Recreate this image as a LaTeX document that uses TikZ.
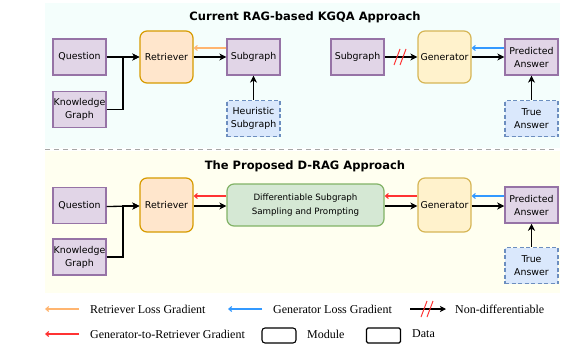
\documentclass[tikz,border=0pt]{standalone}
\usepackage{fontspec}
\setmainfont{DejaVu Sans}
\newfontfamily\legendfont{Liberation Serif}
\usetikzlibrary{arrows.meta,calc}

\definecolor{topbg}{HTML}{F4FEFC}
\definecolor{botbg}{HTML}{FFFFF0}
\definecolor{datafill}{HTML}{E1D5E7}
\definecolor{datadraw}{HTML}{9673A6}
\definecolor{auxfill}{HTML}{DAE8FC}
\definecolor{auxdraw}{HTML}{6C8EBF}
\definecolor{retfill}{HTML}{FFE6CC}
\definecolor{retdraw}{HTML}{D79B00}
\definecolor{genfill}{HTML}{FFF2CC}
\definecolor{gendraw}{HTML}{D6B656}
\definecolor{difffill}{HTML}{D5E8D4}
\definecolor{diffdraw}{HTML}{82B366}
\definecolor{retgrad}{HTML}{FFB570}
\definecolor{gengrad}{HTML}{3399FF}
\definecolor{g2rgrad}{HTML}{FF3333}

\tikzset{
  box/.style={draw, line width=1.2pt, minimum width=53pt, align=center,
    inner sep=0.5pt, font=\fontsize{9.4}{13}\selectfont},
  databox/.style={box, fill=datafill, draw=datadraw, minimum height=36pt},
  auxbox/.style={box, fill=auxfill, draw=auxdraw, dash pattern=on 4pt off 2.5pt, minimum height=36pt},
  retbox/.style={box, fill=retfill, draw=retdraw, rounded corners=7pt, minimum height=52pt},
  genbox/.style={box, fill=genfill, draw=gendraw, rounded corners=7pt, minimum height=52pt},
  diffbox/.style={box, fill=difffill, draw=diffdraw, rounded corners=7pt,
    minimum width=157pt, minimum height=42pt, font=\fontsize{8.7}{13.5}\selectfont},
  flow/.style={-{Stealth[length=7pt,width=7pt,inset=2pt]}, line width=1.3pt},
  grad/.style={-{Straight Barb[length=3pt,width=5pt]}, line width=1.1pt},
  cut/.style={draw=g2rgrad, line width=1pt},
  title/.style={font=\bfseries\fontsize{11.5}{13}\selectfont},
  legtext/.style={anchor=west, font=\legendfont\fontsize{12}{13}\selectfont, inner sep=0pt},
  legbox/.style={draw, line width=1.1pt, minimum width=34pt, minimum height=15pt, inner sep=0pt}
}

\begin{document}
\begin{tikzpicture}[x=1pt,y=-1pt]
\useasboundingbox (0,0) rectangle (564,345);

% panel backgrounds and separator
\fill[topbg] (45,3) rectangle (560,148);
\fill[botbg] (45,151) rectangle (560,293);
\draw[gray!70, line width=1pt, dash pattern=on 5pt off 4pt] (45,149.5) -- (557,149.5);

% ---------------- current approach ----------------
\node[title] (t1) at (305,17) {Current RAG-based KGQA Approach};

\node[databox] (q1)  at (79.5,57)    {Question};
\node[databox] (kg1) at (79.5,109.5) {Knowledge\\Graph};
\node[retbox]  (r1)  at (166.5,57)   {Retriever};
\node[databox] (s1)  at (253.5,57)   {Subgraph};
\node[auxbox]  (h1)  at (253.5,118.5){Heuristic\\Subgraph};
\node[databox] (s2)  at (357.5,57)   {Subgraph};
\node[genbox]  (g1)  at (444.5,57)   {Generator};
\node[databox] (pa1) at (531.5,57)   {Predicted\\Answer};
\node[auxbox]  (ta1) at (531.5,118.5){True\\Answer};

\coordinate (j1) at (123,57);
\draw[flow] (q1.east) -- (r1.west);
\draw[flow] (kg1.east) -| (j1) -- (r1.west);
\draw[flow] (r1.east) -- (s1.west);
\draw[grad, retgrad] ([yshift=9pt]s1.west) -- ([yshift=9pt]r1.east);
\draw[flow] (h1.north) -- (s1.south);
\draw[flow] (s2.east) -- (g1.west);
\coordinate (nd) at ($(s2.east)!0.5!(g1.west)$);
\draw[cut] ($(nd)+(-7,8)$) -- ($(nd)+(-1,-8)$);
\draw[cut] ($(nd)+(-1,8)$) -- ($(nd)+(5,-8)$);
\draw[flow] (g1.east) -- (pa1.west);
\draw[grad, gengrad] ([yshift=9pt]pa1.west) -- ([yshift=9pt]g1.east);
\draw[flow] (ta1.north) -- (pa1.south);

% ---------------- proposed approach ----------------
\node[title] (t2) at (305,166) {The Proposed D-RAG Approach};

\node[databox] (q2)  at (79.5,205.5) {Question};
\node[databox] (kg2) at (79.5,257)   {Knowledge\\Graph};
\node[retbox, minimum height=54pt] (r2) at (166.5,205) {Retriever};
\node[diffbox] (d2)  at (305.5,205)  {Differentiable Subgraph\\Sampling and Prompting};
\node[genbox, minimum height=54pt] (g2) at (444.5,205) {Generator};
\node[databox, line width=1.5pt] (pa2) at (531.5,205) {Predicted\\Answer};
\node[auxbox]  (ta2) at (531.5,265.5) {True\\Answer};

\coordinate (j2) at (123,206);
\draw[flow] ([yshift=-1pt]q2.east) -- ([yshift=-1pt]r2.west);
\draw[flow] (kg2.east) -| (j2) -- ([yshift=-1pt]r2.west);
\draw[flow] ([yshift=-1pt]r2.east) -- ([yshift=-1pt]d2.west);
\draw[grad, g2rgrad] ([yshift=9pt]d2.west) -- ([yshift=9pt]r2.east);
\draw[flow] ([yshift=-1pt]d2.east) -- ([yshift=-1pt]g2.west);
\draw[grad, g2rgrad] ([yshift=9pt]g2.west) -- ([yshift=9pt]d2.east);
\draw[flow] ([yshift=-1pt]g2.east) -- ([yshift=-1pt]pa2.west);
\draw[grad, gengrad] ([yshift=9pt]pa2.west) -- ([yshift=9pt]g2.east);
\draw[flow] (ta2.north) -- (pa2.south);

% ---------------- legend ----------------
\coordinate (la1) at (79,309);  \coordinate (lb1) at (45,309);
\draw[grad, retgrad] (la1) -- (lb1);
\node[legtext] (lt1) at (90,309) {Retriever Loss Gradient};

\coordinate (la2) at (262,309); \coordinate (lb2) at (228,309);
\draw[grad, gengrad] (la2) -- (lb2);
\node[legtext] (lt2) at (273,309) {Generator Loss Gradient};

\coordinate (la3) at (410,309); \coordinate (lb3) at (446,309);
\draw[-{Stealth[length=6pt,width=6pt,inset=1.5pt]}, line width=1.1pt] (la3) -- (lb3);
\coordinate (ln) at (427,309);
\draw[cut] ($(ln)+(-6,8)$) -- ($(ln)+(0,-8)$);
\draw[cut] ($(ln)+(0,8)$) -- ($(ln)+(6,-8)$);
\node[legtext] (lt3) at (455,309) {Non-differentiable};

\coordinate (la4) at (79,334);  \coordinate (lb4) at (45,334);
\draw[grad, g2rgrad] (la4) -- (lb4);
\node[legtext] (lt4) at (90,334) {Generator-to-Retriever Gradient};

\node[legbox, rounded corners=3pt] (lm) at (279,335.5) {};
\node[legtext] (lt5) at (307,334) {Module};
\node[legbox, rounded corners=1.5pt] (ld) at (383.5,335.5) {};
\node[legtext] (lt6) at (412,334) {Data};
\end{tikzpicture}
\end{document}
